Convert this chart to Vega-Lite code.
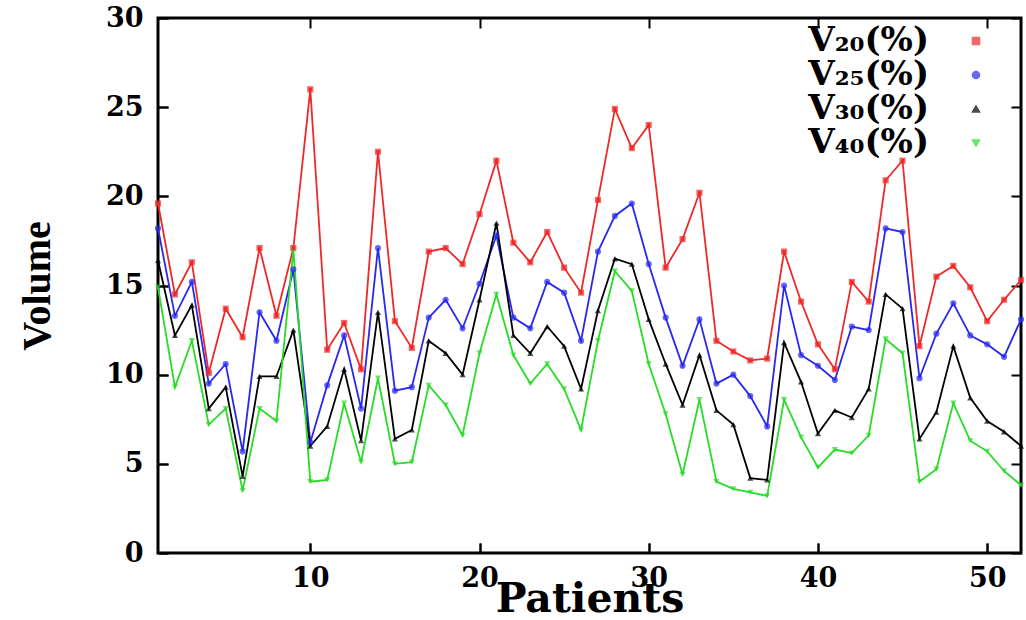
{
  "$schema": "https://vega.github.io/schema/vega-lite/v6.json",
  "width": 863,
  "height": 535,
  "autosize": {"type": "none"},
  "padding": {"left": 158, "top": 18, "right": 5, "bottom": 67},
  "view": {"stroke": "black", "strokeWidth": 3},
  "data": {
    "values": [
      {"p": 1, "V20": 19.6, "V25": 18.2, "V30": 16.4, "V40": 14.9},
      {"p": 2, "V20": 14.5, "V25": 13.3, "V30": 12.2, "V40": 9.3},
      {"p": 3, "V20": 16.3, "V25": 15.2, "V30": 13.9, "V40": 11.9},
      {"p": 4, "V20": 10.1, "V25": 9.5, "V30": 8.1, "V40": 7.2},
      {"p": 5, "V20": 13.7, "V25": 10.6, "V30": 9.3, "V40": 8.1},
      {"p": 6, "V20": 12.1, "V25": 5.7, "V30": 4.3, "V40": 3.5},
      {"p": 7, "V20": 17.1, "V25": 13.5, "V30": 9.9, "V40": 8.1},
      {"p": 8, "V20": 13.3, "V25": 11.9, "V30": 9.9, "V40": 7.4},
      {"p": 9, "V20": 17.1, "V25": 15.9, "V30": 12.5, "V40": 17.0},
      {"p": 10, "V20": 26.0, "V25": 6.2, "V30": 6.0, "V40": 4.0},
      {"p": 11, "V20": 11.4, "V25": 9.4, "V30": 7.1, "V40": 4.1},
      {"p": 12, "V20": 12.9, "V25": 12.2, "V30": 10.3, "V40": 8.4},
      {"p": 13, "V20": 10.3, "V25": 8.1, "V30": 6.3, "V40": 5.1},
      {"p": 14, "V20": 22.5, "V25": 17.1, "V30": 13.5, "V40": 9.8},
      {"p": 15, "V20": 13.0, "V25": 9.1, "V30": 6.4, "V40": 5.0},
      {"p": 16, "V20": 11.5, "V25": 9.3, "V30": 6.9, "V40": 5.1},
      {"p": 17, "V20": 16.9, "V25": 13.2, "V30": 11.9, "V40": 9.4},
      {"p": 18, "V20": 17.1, "V25": 14.2, "V30": 11.2, "V40": 8.3},
      {"p": 19, "V20": 16.2, "V25": 12.6, "V30": 10.0, "V40": 6.6},
      {"p": 20, "V20": 19.0, "V25": 15.1, "V30": 14.2, "V40": 11.2},
      {"p": 21, "V20": 22.0, "V25": 17.8, "V30": 18.5, "V40": 14.5},
      {"p": 22, "V20": 17.4, "V25": 13.2, "V30": 12.2, "V40": 11.1},
      {"p": 23, "V20": 16.3, "V25": 12.6, "V30": 11.2, "V40": 9.5},
      {"p": 24, "V20": 18.0, "V25": 15.2, "V30": 12.7, "V40": 10.6},
      {"p": 25, "V20": 16.0, "V25": 14.6, "V30": 11.6, "V40": 9.2},
      {"p": 26, "V20": 14.6, "V25": 11.9, "V30": 9.2, "V40": 6.9},
      {"p": 27, "V20": 19.8, "V25": 16.9, "V30": 13.6, "V40": 11.9},
      {"p": 28, "V20": 24.9, "V25": 18.9, "V30": 16.5, "V40": 15.8},
      {"p": 29, "V20": 22.7, "V25": 19.6, "V30": 16.2, "V40": 14.7},
      {"p": 30, "V20": 24.0, "V25": 16.2, "V30": 13.1, "V40": 10.6},
      {"p": 31, "V20": 16.0, "V25": 13.2, "V30": 10.6, "V40": 7.8},
      {"p": 32, "V20": 17.6, "V25": 10.5, "V30": 8.3, "V40": 4.4},
      {"p": 33, "V20": 20.2, "V25": 13.1, "V30": 11.1, "V40": 8.6},
      {"p": 34, "V20": 11.9, "V25": 9.5, "V30": 8.0, "V40": 4.0},
      {"p": 35, "V20": 11.3, "V25": 10.0, "V30": 7.2, "V40": 3.6},
      {"p": 36, "V20": 10.8, "V25": 8.8, "V30": 4.2, "V40": 3.4},
      {"p": 37, "V20": 10.9, "V25": 7.1, "V30": 4.1, "V40": 3.2},
      {"p": 38, "V20": 16.9, "V25": 15.0, "V30": 11.8, "V40": 8.6},
      {"p": 39, "V20": 14.1, "V25": 11.1, "V30": 9.6, "V40": 6.5},
      {"p": 40, "V20": 11.7, "V25": 10.5, "V30": 6.7, "V40": 4.8},
      {"p": 41, "V20": 10.3, "V25": 9.7, "V30": 8.0, "V40": 5.8},
      {"p": 42, "V20": 15.2, "V25": 12.7, "V30": 7.6, "V40": 5.6},
      {"p": 43, "V20": 14.1, "V25": 12.5, "V30": 9.2, "V40": 6.6},
      {"p": 44, "V20": 20.9, "V25": 18.2, "V30": 14.5, "V40": 12.0},
      {"p": 45, "V20": 22.0, "V25": 18.0, "V30": 13.7, "V40": 11.2},
      {"p": 46, "V20": 11.6, "V25": 9.8, "V30": 6.4, "V40": 4.0},
      {"p": 47, "V20": 15.5, "V25": 12.3, "V30": 7.9, "V40": 4.7},
      {"p": 48, "V20": 16.1, "V25": 14.0, "V30": 11.6, "V40": 8.4},
      {"p": 49, "V20": 14.9, "V25": 12.2, "V30": 8.7, "V40": 6.3},
      {"p": 50, "V20": 13.0, "V25": 11.7, "V30": 7.4, "V40": 5.7},
      {"p": 51, "V20": 14.2, "V25": 11.0, "V30": 6.8, "V40": 4.6},
      {"p": 52, "V20": 15.3, "V25": 13.1, "V30": 6.0, "V40": 3.8}
    ]
  },
  "transform": [{"fold": ["V20", "V25", "V30", "V40"], "as": ["series", "value"]}],
  "encoding": {
    "x": {"field": "p", "type": "quantitative", "scale": {"domain": [1, 52], "nice": false, "zero": false},
      "axis": {"values": [10, 20, 30, 40, 50], "title": "Patients",
        "labelFont": "DejaVu Serif", "labelFontWeight": "bold", "labelFontSize": 27, "labelColor": "black", "labelPadding": 22,
        "titleFont": "DejaVu Serif", "titleFontWeight": "bold", "titleFontSize": 41, "titleColor": "black", "titlePadding": -12,
        "domain": false, "ticks": true, "tickSize": -10, "tickWidth": 2, "tickColor": "#000000",
        "grid": true, "gridColor": "#000000", "gridWidth": 2, "gridOpacity": 1, "gridDash": [10, 515]}},
    "y": {"field": "value", "type": "quantitative", "scale": {"domain": [0, 30], "nice": false},
      "axis": {"values": [0, 5, 10, 15, 20, 25, 30], "title": "Volume",
        "labelFont": "DejaVu Serif", "labelFontWeight": "bold", "labelFontSize": 27, "labelColor": "black", "labelPadding": 25,
        "titleFont": "Liberation Serif", "titleFontWeight": "bold", "titleFontSize": 40, "titleColor": "black", "titlePadding": 48,
        "domain": false, "ticks": true, "tickSize": -10, "tickWidth": 2, "tickColor": "#000000",
        "grid": true, "gridColor": "#000000", "gridWidth": 2, "gridOpacity": 1, "gridDash": [10, 843]}},
    "color": {"field": "series", "type": "nominal",
      "scale": {"domain": ["V20", "V25", "V30", "V40"], "range": ["#f02828", "#2828f0", "#000000", "#28dc28"]},
      "legend": {
        "title": null, "orient": "none", "legendX": 801, "legendY": 6, "padding": 0,
        "labelExpr": "datum.label == 'V20' ? 'V₂₀(%)' : datum.label == 'V25' ? 'V₂₅(%)' : datum.label == 'V30' ? 'V₃₀(%)' : 'V₄₀(%)'",
        "labelFont": "DejaVu Serif", "labelFontWeight": "bold", "labelFontSize": 34, "labelColor": "black",
        "labelAlign": "right", "labelOffset": -64, "rowPadding": -4,
        "symbolSize": 50, "symbolStrokeWidth": 1.5
      }}
  },
  "layer": [
    {
      "mark": {"type": "line", "strokeWidth": 1.8}
    },
    {
      "mark": {"type": "point", "filled": true, "size": 38},
      "encoding": {
        "shape": {"field": "series", "type": "nominal",
          "scale": {"domain": ["V20", "V25", "V30", "V40"], "range": ["square", "circle", "triangle-up", "triangle-down"]}, "legend": null}
      }
    },
    {
      "transform": [{"filter": "datum.series == 'V20'"}],
      "mark": {"type": "point", "filled": true, "shape": "square", "size": 10, "color": "#ffffff", "opacity": 1}
    }
  ]
}
